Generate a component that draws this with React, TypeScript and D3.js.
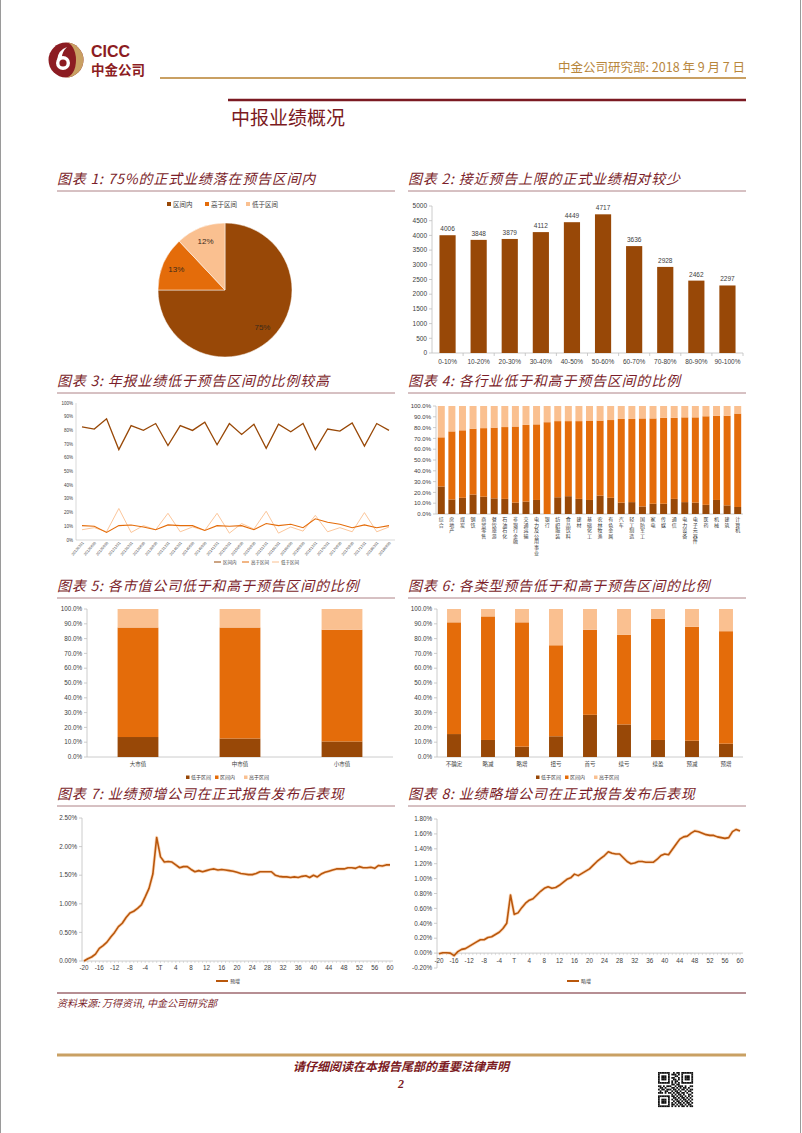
import React from 'react';
import * as d3 from 'd3';

// ---------------- data ----------------
const titles = [
  '75%的正式业绩落在预告区间内',
  '接近预告上限的正式业绩相对较少',
  '年报业绩低于预告区间的比例较高',
  '各行业低于和高于预告区间的比例',
  '各市值公司低于和高于预告区间的比例',
  '各类型预告低于和高于预告区间的比例',
  '业绩预增公司在正式报告发布后表现',
  '业绩略增公司在正式报告发布后表现',
];

const pieCats = ['区间内', '高于区间', '低于区间'];
const pieVals = [75, 13, 12];

const c2Cats = ['0-10%', '10-20%', '20-30%', '30-40%', '40-50%', '50-60%', '60-70%', '70-80%', '80-90%', '90-100%'];
const c2Vals = [4006, 3848, 3879, 4112, 4449, 4717, 3636, 2928, 2462, 2297];
const c2Ticks = [0, 500, 1000, 1500, 2000, 2500, 3000, 3500, 4000, 4500, 5000];

const c3Dates = ['20120331', '20120630', '20120930', '20121231', '20130331', '20130630', '20130930', '20131231',
  '20140331', '20140630', '20140930', '20141231', '20150331', '20150630', '20150930', '20151231',
  '20160331', '20160630', '20160930', '20161231', '20170331', '20170630', '20170930', '20171231',
  '20180331', '20180630'];
const c3Inside = [82.5, 81, 88.5, 66, 83.5, 80, 85, 69, 83.5, 80, 86, 69.5, 85, 77, 84.5, 67, 84.5, 79, 85, 66, 81, 79.5, 85.5, 68.5, 85, 80];
const c3Above = [10.5, 10, 5.5, 10.5, 11, 9.5, 7.5, 11, 10.5, 10.5, 7, 10.5, 10, 10.5, 7.5, 12, 10.5, 11.5, 9, 15.5, 13, 11.5, 9, 11, 9, 10.5];
const c3Below = [7.5, 9, 6, 23, 5.5, 10.5, 7.5, 19.5, 6, 9.5, 7, 19.5, 5, 12, 8, 21, 5, 9.5, 6.5, 18, 6, 9, 6, 20, 6, 9.5];
const c3Ticks = [0, 10, 20, 30, 40, 50, 60, 70, 80, 90, 100];

const c4Cats = ['综合', '房地产', '煤炭', '钢铁', '商贸零售', '餐饮旅游', '石油石化', '非银行金融', '交通运输', '电力及公用事业',
  '银行', '纺织服装', '食品饮料', '建材', '基础化工', '农林牧渔', '有色金属', '汽车', '轻工制造', '国防军工',
  '家电', '传媒', '通信', '电力设备', '电子元器件', '医药', '机械', '建筑', '计算机'];
const c4Below = [25.5, 13.5, 15, 18, 16, 14.5, 14, 10.5, 11.5, 13, 0, 15.5, 16.5, 14, 13, 17, 15, 10.5, 11, 7, 9.5, 9.5, 14, 11, 10.5, 8.5, 13, 8, 6.5];
const c4Inside = [45.5, 63, 62.5, 61, 63.5, 65.5, 66.5, 70.5, 71, 70, 85, 70.5, 69.5, 72, 73.5, 69.5, 72, 77.5, 77, 81.5, 79, 79.5, 75, 78.5, 79, 82, 78, 83, 86.5];
const c4Above = [29, 23.5, 22.5, 21, 20.5, 20, 19.5, 19, 17.5, 17, 15, 14, 14, 14, 13.5, 13.5, 13, 12, 12, 11.5, 11.5, 11, 11, 10.5, 10.5, 9.5, 9, 9, 7];

const c5Cats = ['大市值', '中市值', '小市值'];
const c5Below = [13.5, 12.5, 10.5];
const c5Inside = [74, 75, 75.5];
const c5Above = [12.5, 12.5, 14];

const c6Cats = ['不确定', '略减', '略增', '扭亏', '首亏', '续亏', '续盈', '预减', '预增'];
const c6Below = [15.5, 11.5, 7, 14, 28.5, 22, 11.5, 11, 9];
const c6Inside = [75.5, 83.5, 84, 61.5, 57.5, 60.5, 82, 77, 76];
const c6Above = [9, 5, 9, 24.5, 14, 17.5, 6.5, 12, 15];

const stackKeys = ['低于区间', '区间内', '高于区间'];
const pctTicks = [0, 10, 20, 30, 40, 50, 60, 70, 80, 90, 100];

const dayTicks = [-20, -16, -12, -8, -4, 0, 4, 8, 12, 16, 20, 24, 28, 32, 36, 40, 44, 48, 52, 56, 60];
const c7Vals = [0.00, 0.04, 0.07, 0.12, 0.22, 0.27, 0.33, 0.42, 0.50, 0.60, 0.66, 0.76, 0.84, 0.87, 0.92, 0.98, 1.12, 1.27, 1.52, 2.16,
  1.82, 1.73, 1.74, 1.73, 1.68, 1.63, 1.65, 1.65, 1.60, 1.56,
  1.58, 1.56, 1.58, 1.60, 1.61, 1.59, 1.60, 1.59, 1.58, 1.57,
  1.55, 1.53, 1.52, 1.51, 1.51, 1.53, 1.56, 1.56, 1.56, 1.56,
  1.50, 1.48, 1.47, 1.47, 1.46, 1.47, 1.46, 1.48, 1.49, 1.46,
  1.50, 1.47, 1.52, 1.55, 1.57, 1.59, 1.61, 1.61, 1.61, 1.63,
  1.63, 1.62, 1.65, 1.63, 1.63, 1.64, 1.62, 1.67, 1.66, 1.68,
  1.68];
const c7Ticks = [0, 0.5, 1.0, 1.5, 2.0, 2.5];
const c8Vals = [-0.01, 0.005, 0.005, 0.00, -0.035, 0.02, 0.05, 0.06, 0.09, 0.12, 0.15, 0.18, 0.18, 0.21, 0.22, 0.25, 0.28, 0.33, 0.40, 0.78,
  0.52, 0.54, 0.61, 0.67, 0.71, 0.73, 0.78, 0.83, 0.87, 0.89,
  0.87, 0.88, 0.91, 0.95, 0.99, 1.01, 1.06, 1.04, 1.07, 1.10,
  1.13, 1.18, 1.23, 1.27, 1.31, 1.36, 1.34, 1.33, 1.33, 1.28,
  1.23, 1.20, 1.21, 1.23, 1.23, 1.22, 1.22, 1.22, 1.26, 1.31,
  1.33, 1.32, 1.39, 1.46, 1.53, 1.56, 1.57, 1.61, 1.64, 1.63,
  1.61, 1.59, 1.58, 1.58, 1.56, 1.55, 1.54, 1.55, 1.63, 1.66,
  1.64];
const c8Ticks = [-0.2, 0, 0.2, 0.4, 0.6, 0.8, 1.0, 1.2, 1.4, 1.6, 1.8];

// ---------------- style ----------------
const NUM = '"Liberation Sans", Arial, sans-serif';
const CJK = '"Noto Sans CJK SC", sans-serif';
const TITLE = '#7B1E2A';
const DARK = '#984807';
const MID = '#E46C0A';
const LIGHT = '#FAC090';
const AXIS = '#BFBFBF';
const TXT = '#404040';
const GOLD = '#C9A063';

const qr = [
  '111111100101101111111',
  '100000101110101000001',
  '101110100011001011101',
  '101110101100101011101',
  '101110100110101011101',
  '100000101011001000001',
  '111111101010101111111',
  '000000001101100000000',
  '110101110010111010011',
  '011010001101010110100',
  '101101110110101101011',
  '010011001011010010110',
  '111010110101101101001',
  '000000001010110100110',
  '111111101101011010101',
  '100000100110101101010',
  '101110101011010110101',
  '101110100101101011010',
  '101110101010110101101',
  '100000101101011010110',
  '111111101010101101011',
];

function Title({ x, y, w, n }: { x: number; y: number; w: number; n: number }) {
  return (
    <g>
      <text x={x} y={y} fontFamily={CJK} fontStyle="italic" fontSize={14} fill={TITLE} letterSpacing={0.8}>
        {`图表 ${n}: ${titles[n - 1]}`}
      </text>
      <line x1={x} x2={x + w} y1={y + 7} y2={y + 7} stroke="#9A6268" strokeWidth={0.8} />
    </g>
  );
}

function PieChart() {
  const cx = 225, cy = 290, r = 67;
  const arcs = d3.pie<number>().sort(null).value((d) => d)(pieVals);
  const arc = d3.arc<d3.PieArcDatum<number>>().innerRadius(0).outerRadius(r);
  const lab = d3.arc<d3.PieArcDatum<number>>().innerRadius(53).outerRadius(53);
  const colors = [DARK, MID, LIGHT];
  const legX = [167, 205, 246];
  return (
    <g>
      {pieCats.map((c, i) => (
        <g key={c}>
          <rect x={legX[i]} y={202} width={4} height={4} fill={colors[i]} />
          <text x={legX[i] + 6} y={206.5} fontFamily={CJK} fontSize={6.5} fill={TXT}>{c}</text>
        </g>
      ))}
      <g transform={`translate(${cx},${cy})`}>
        {arcs.map((a, i) => (
          <path key={i} d={arc(a) || ''} fill={colors[i]} stroke="#fff" strokeWidth={0.5} />
        ))}
        {arcs.map((a, i) => {
          const [lx, ly] = lab.centroid(a);
          return (
            <text key={'l' + i} x={lx} y={ly} dy="0.35em" textAnchor="middle" fontFamily={NUM} fontSize={8} fill="#3A2A1A">
              {pieVals[i]}%
            </text>
          );
        })}
      </g>
    </g>
  );
}

function BarChart2() {
  const x = d3.scaleBand().domain(c2Cats).range([432, 743]).paddingInner(0.48).paddingOuter(0.24);
  const y = d3.scaleLinear().domain([0, 5000]).range([353, 206]);
  return (
    <g fontFamily={NUM}>
      <line x1={432} x2={432} y1={206} y2={353} stroke={AXIS} strokeWidth={0.8} />
      {c2Ticks.map((t) => (
        <g key={t}>
          <line x1={429} x2={432} y1={y(t)} y2={y(t)} stroke={AXIS} strokeWidth={0.8} />
          <text x={427} y={y(t)} dy="0.35em" textAnchor="end" fontSize={6.5} fill={TXT}>{t}</text>
        </g>
      ))}
      <line x1={432} x2={743} y1={353} y2={353} stroke={AXIS} strokeWidth={0.8} />
      {c2Cats.map((c, i) => (
        <line key={'t' + i} x1={(x(c) as number) + x.bandwidth() + x.step() * 0.24} x2={(x(c) as number) + x.bandwidth() + x.step() * 0.24} y1={353} y2={356} stroke={AXIS} strokeWidth={0.8} />
      ))}
      {c2Cats.map((c, i) => (
        <g key={c}>
          <rect x={x(c)} y={y(c2Vals[i])} width={x.bandwidth()} height={353 - y(c2Vals[i])} fill={DARK} />
          <text x={(x(c) as number) + x.bandwidth() / 2} y={y(c2Vals[i]) - 4} textAnchor="middle" fontSize={6.5} fill={TXT}>{c2Vals[i]}</text>
          <text x={(x(c) as number) + x.bandwidth() / 2} y={364} textAnchor="middle" fontSize={6.5} fill={TXT}>{c}</text>
        </g>
      ))}
    </g>
  );
}

function LineChart3() {
  const x = d3.scalePoint().domain(c3Dates).range([82, 389]);
  const y = d3.scaleLinear().domain([0, 100]).range([540, 403]);
  const line = (vals: number[]) =>
    d3.line<number>().x((_, i) => x(c3Dates[i]) as number).y((d) => y(d))(vals) || '';
  const series = [
    { name: '区间内', vals: c3Inside, color: DARK, w: 1.3 },
    { name: '高于区间', vals: c3Above, color: MID, w: 1.1 },
    { name: '低于区间', vals: c3Below, color: LIGHT, w: 0.9 },
  ];
  const legX = [214, 242, 272];
  return (
    <g fontFamily={NUM}>
      <line x1={76} x2={76} y1={403} y2={540} stroke={AXIS} strokeWidth={0.6} />
      <line x1={76} x2={395} y1={540} y2={540} stroke={AXIS} strokeWidth={0.6} />
      {c3Ticks.map((t) => (
        <text key={t} x={73} y={y(t)} dy="0.35em" textAnchor="end" fontSize={4.5} fill={TXT}>{t}%</text>
      ))}
      {[...series].reverse().map((s) => (
        <path key={s.name} d={line(s.vals)} fill="none" stroke={s.color} strokeWidth={s.w} />
      ))}
      {c3Dates.map((d) => (
        <text key={d} transform={`translate(${(x(d) as number) + 2},${543}) rotate(-50)`} textAnchor="end" fontSize={3.8} fill={TXT}>{d}</text>
      ))}
      {series.map((s, i) => (
        <g key={'lg' + i}>
          <line x1={legX[i]} x2={legX[i] + 7} y1={562} y2={562} stroke={s.color} strokeWidth={1} />
          <text x={legX[i] + 9} y={563.8} fontFamily={CJK} fontSize={4.5} fill={TXT}>{s.name}</text>
        </g>
      ))}
    </g>
  );
}

type StackProps = {
  cats: string[]; below: number[]; inside: number[]; above: number[];
  x0: number; x1: number; yTop: number; yBot: number; pad: number;
  fs: number; vertical?: boolean; legendY?: number; legendX?: number;
};

function StackChart(p: StackProps) {
  const rows = p.cats.map((c, i) => ({ cat: c, '低于区间': p.below[i], '区间内': p.inside[i], '高于区间': p.above[i] }));
  const stacked = d3.stack<any>().keys(stackKeys)(rows);
  const x = d3.scaleBand().domain(p.cats).range([p.x0, p.x1]).paddingInner(p.pad).paddingOuter(p.pad / 2);
  const y = d3.scaleLinear().domain([0, 100]).range([p.yBot, p.yTop]);
  const colors = [DARK, MID, LIGHT];
  return (
    <g fontFamily={NUM}>
      <line x1={p.x0} x2={p.x0} y1={p.yTop} y2={p.yBot} stroke={AXIS} strokeWidth={0.8} />
      <line x1={p.x0} x2={p.x1} y1={p.yBot} y2={p.yBot} stroke={AXIS} strokeWidth={0.8} />
      {pctTicks.map((t) => (
        <g key={t}>
          <line x1={p.x0 - 3} x2={p.x0} y1={y(t)} y2={y(t)} stroke={AXIS} strokeWidth={0.8} />
          <text x={p.x0 - 5} y={y(t)} dy="0.35em" textAnchor="end" fontSize={p.fs} fill={TXT}>{t.toFixed(1)}%</text>
        </g>
      ))}
      {stacked.map((s, k) => (
        <g key={k} fill={colors[k]}>
          {s.map((d, i) => (
            <rect key={i} x={x(p.cats[i])} y={y(d[1])} width={x.bandwidth()} height={Math.max(0, y(d[0]) - y(d[1]))} />
          ))}
        </g>
      ))}
      {p.cats.map((c) => {
        const cx = (x(c) as number) + x.bandwidth() / 2;
        if (p.vertical) {
          return (
            <text key={c} x={cx} y={p.yBot + 7} textAnchor="middle" fontFamily={CJK} fontSize={5} fill={TXT}>
              {c.split('').map((ch, j) => (
                <tspan key={j} x={cx} dy={j === 0 ? 0 : 5.6}>{ch}</tspan>
              ))}
            </text>
          );
        }
        return (
          <text key={c} x={cx} y={p.yBot + 9} textAnchor="middle" fontFamily={CJK} fontSize={5.5} fill={TXT}>{c}</text>
        );
      })}
      {p.legendY !== undefined &&
        stackKeys.map((k, i) => {
          const lx = (p.legendX as number) + i * 29;
          return (
            <g key={'lg' + k}>
              <rect x={lx} y={p.legendY! - 3.5} width={3.5} height={3.5} fill={colors[i]} />
              <text x={lx + 5} y={p.legendY!} fontFamily={CJK} fontSize={5} fill={TXT}>{k}</text>
            </g>
          );
        })}
    </g>
  );
}

type LineProps = {
  vals: number[]; ticks: number[]; yMin: number; yMax: number;
  x0: number; x1: number; axisX: number; yTop: number; yBot: number;
  name: string; legX: number; legY: number; labY: number;
};

function DayLine(p: LineProps) {
  const x = d3.scaleLinear().domain([-20, 60]).range([p.x0, p.x1]);
  const y = d3.scaleLinear().domain([p.yMin, p.yMax]).range([p.yBot, p.yTop]);
  const path = d3.line<number>().x((_, i) => x(i - 20)).y((d) => y(d))(p.vals) || '';
  const y0 = y(0);
  return (
    <g fontFamily={NUM}>
      <line x1={p.axisX} x2={p.axisX} y1={p.yTop} y2={p.yBot} stroke={AXIS} strokeWidth={0.8} />
      {p.ticks.map((t) => (
        <g key={t}>
          <line x1={p.axisX - 3} x2={p.axisX} y1={y(t)} y2={y(t)} stroke={AXIS} strokeWidth={0.8} />
          <text x={p.axisX - 5} y={y(t)} dy="0.35em" textAnchor="end" fontSize={6.3} fill={TXT}>{t.toFixed(2)}%</text>
        </g>
      ))}
      <line x1={p.axisX} x2={p.x1 + 3} y1={y0} y2={y0} stroke={AXIS} strokeWidth={0.8} />
      {d3.range(-20, 61).map((d) => (
        <line key={'tk' + d} x1={x(d)} x2={x(d)} y1={y0} y2={y0 + 2} stroke={AXIS} strokeWidth={0.5} />
      ))}
      {dayTicks.map((d) => (
        <text key={d} x={x(d)} y={p.labY} textAnchor="middle" fontSize={6.3} fill={TXT}>{d === 0 ? 'T' : d}</text>
      ))}
      <path d={path} fill="none" stroke={LIGHT} strokeWidth={3.2} strokeOpacity={0.6} strokeLinejoin="round" />
      <path d={path} fill="none" stroke="#B9570C" strokeWidth={1.6} strokeLinejoin="round" />
      <line x1={p.legX} x2={p.legX + 12} y1={p.legY} y2={p.legY} stroke="#B9570C" strokeWidth={2} />
      <text x={p.legX + 14} y={p.legY + 2} fontFamily={CJK} fontSize={5} fill={TXT}>{p.name}</text>
    </g>
  );
}

function Header() {
  return (
    <g>
      {/* logo */}
      <circle cx={66} cy={60} r={17.5} fill="#8C1C22" />
      <path d="M66,42.5 A17.5,17.5 0 0 1 66,77.5 A10,17.5 0 0 0 66,42.5 Z" fill="#C9A063" />
      <circle cx={63} cy={63} r={7} fill="#fff" />
      <circle cx={63} cy={63} r={3.6} fill="#8C1C22" />
      <path d="M57,60 Q58,50 67,47 Q62,52 62,57 Z" fill="#fff" />
      <text x={91} y={57} fontFamily={'"Liberation Sans", Arial, sans-serif'} fontWeight="bold" fontSize={16} fill="#8C1C22">CICC</text>
      <text x={91} y={75} fontFamily={CJK} fontWeight="bold" fontSize={13.5} fill="#8C1C22">中金公司</text>
      <text x={745} y={72} textAnchor="end" fontFamily={CJK} fontSize={12.5} fill="#B8863B">中金公司研究部: 2018 年 9 月 7 日</text>
      <line x1={160} x2={746} y1={78} y2={78} stroke={GOLD} strokeWidth={2} />
      <line x1={228} x2={746} y1={100} y2={100} stroke="#7B1A22" strokeWidth={2.6} />
      <text x={231} y={125} fontFamily={CJK} fontSize={19} fill="#7B1A22">中报业绩概况</text>
    </g>
  );
}

function Footer() {
  const m = 35 / 21;
  return (
    <g>
      <line x1={57} x2={746} y1={993} y2={993} stroke="#6E1E28" strokeWidth={1.2} />
      <text x={57} y={1007} fontFamily={CJK} fontStyle="italic" fontSize={10} fill="#7B1E2A">资料来源: 万得资讯, 中金公司研究部</text>
      <line x1={57} x2={746} y1={1055} y2={1055} stroke={GOLD} strokeWidth={3} />
      <text x={401} y={1071} textAnchor="middle" fontFamily={CJK} fontStyle="italic" fontWeight="bold" fontSize={12} fill="#7B1A22">请仔细阅读在本报告尾部的重要法律声明</text>
      <text x={401} y={1088} textAnchor="middle" fontFamily={'"Liberation Serif", serif'} fontStyle="italic" fontWeight="bold" fontSize={12} fill="#7B1A22">2</text>
      <g transform="translate(658,1072)">
        {qr.map((row, r) =>
          row.split('').map((ch, c) =>
            ch === '1' ? <rect key={r + '-' + c} x={c * m} y={r * m} width={m + 0.1} height={m + 0.1} fill="#111" /> : null
          )
        )}
      </g>
    </g>
  );
}

export default function App() {
  return (
    <div style={{ position: 'absolute', left: 0, top: 0 }}>
      <svg width={802} height={1133} viewBox="0 0 802 1133" style={{ display: 'block', background: '#fff' }}>
        <rect x={0} y={0} width={802} height={1133} fill="#fff" />
        <line x1={0.5} x2={0.5} y1={0} y2={1133} stroke="#9A9A9A" strokeWidth={1} />
        <line x1={800.5} x2={800.5} y1={0} y2={1133} stroke="#9A9A9A" strokeWidth={1} />
        <Header />
        <Title x={57} y={184} w={338} n={1} />
        <Title x={408} y={184} w={338} n={2} />
        <PieChart />
        <BarChart2 />
        <Title x={57} y={386} w={338} n={3} />
        <Title x={408} y={386} w={338} n={4} />
        <LineChart3 />
        <StackChart cats={c4Cats} below={c4Below} inside={c4Inside} above={c4Above}
          x0={436} x1={743} yTop={406} yBot={514} pad={0.34} fs={6} vertical />
        <Title x={57} y={591} w={338} n={5} />
        <Title x={408} y={591} w={338} n={6} />
        <StackChart cats={c5Cats} below={c5Below} inside={c5Inside} above={c5Above}
          x0={87} x1={393} yTop={609} yBot={757} pad={0.6} fs={6.3} legendY={779} legendX={186} />
        <StackChart cats={c6Cats} below={c6Below} inside={c6Inside} above={c6Above}
          x0={437} x1={743} yTop={609} yBot={757} pad={0.59} fs={6.3} legendY={779} legendX={536} />
        <Title x={57} y={799} w={338} n={7} />
        <Title x={408} y={799} w={338} n={8} />
        <DayLine vals={c7Vals} ticks={c7Ticks} yMin={0} yMax={2.5} x0={84} x1={390} axisX={82}
          yTop={818} yBot={961} name="预增" legX={216} legY={981} labY={970} />
        <DayLine vals={c8Vals} ticks={c8Ticks} yMin={-0.2} yMax={1.8} x0={439} x1={740} axisX={437}
          yTop={819} yBot={968} name="略增" legX={567} legY={981} labY={963} />
        <Footer />
      </svg>
    </div>
  );
}
